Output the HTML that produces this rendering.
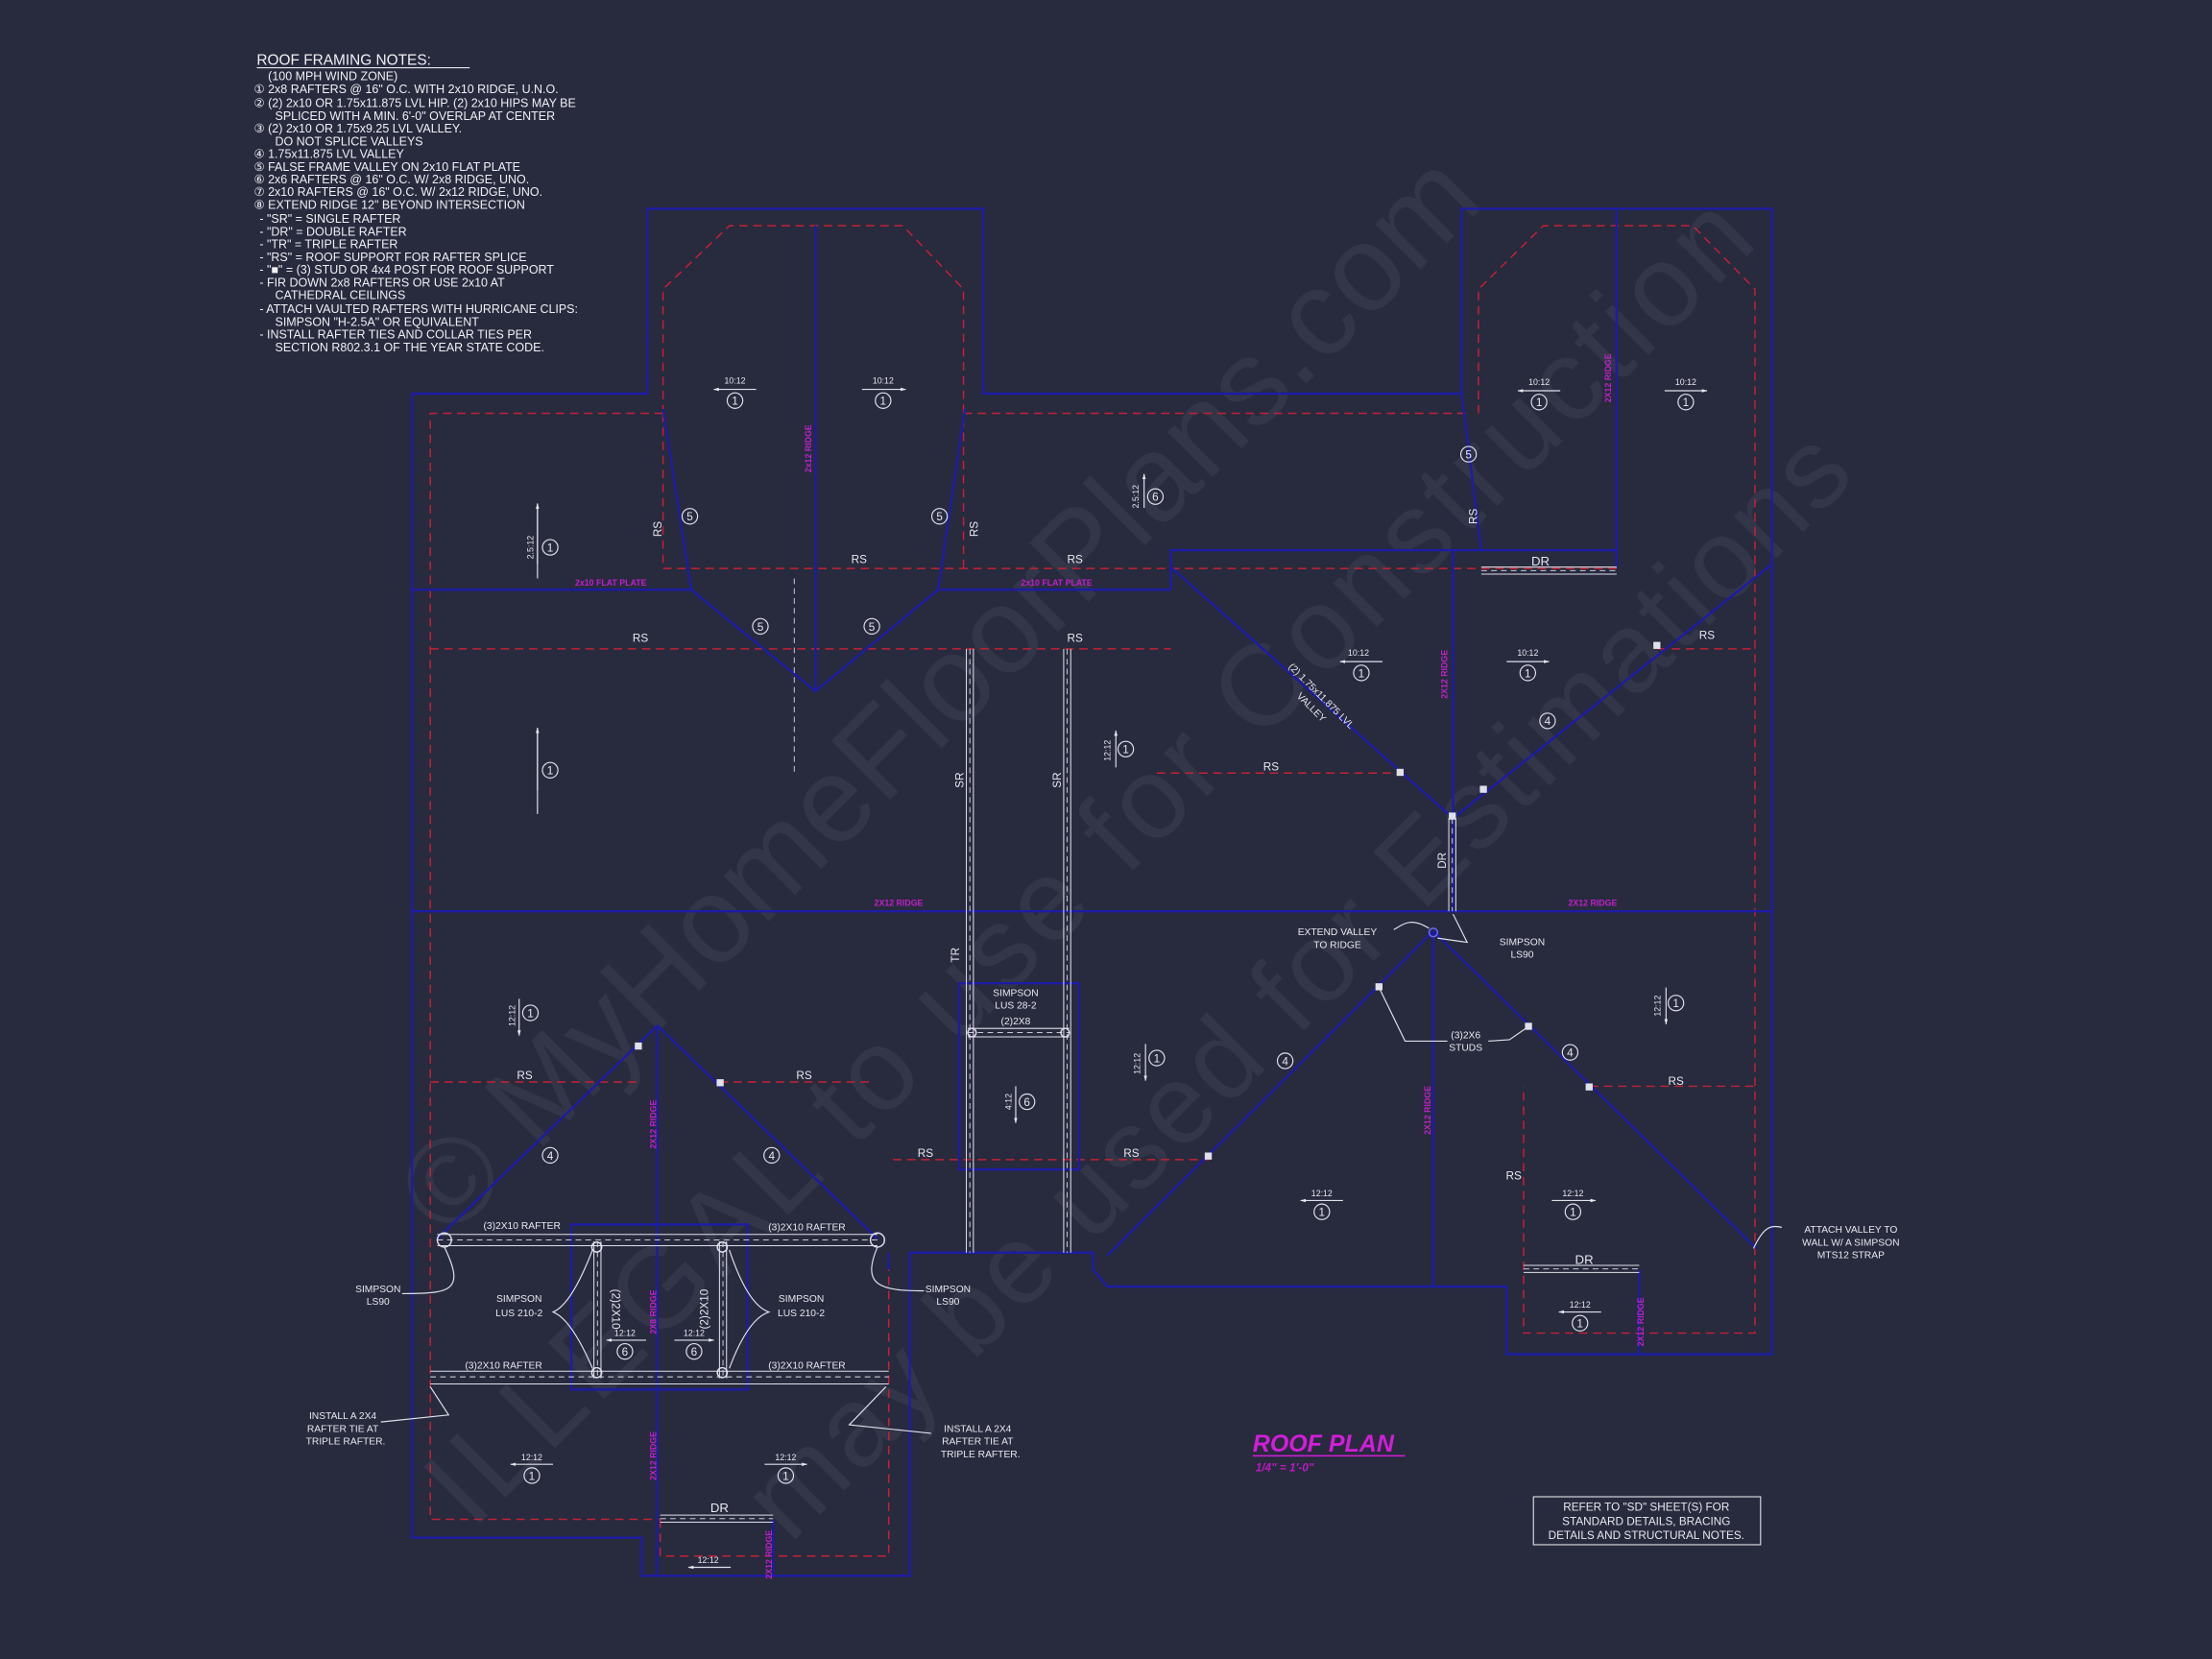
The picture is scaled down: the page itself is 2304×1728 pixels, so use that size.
<!DOCTYPE html>
<html><head><meta charset="utf-8"><style>
html,body{margin:0;padding:0;background:#282a3e;}
svg{display:block;}
text{font-family:"Liberation Sans",sans-serif;}
.w{fill:#e8e8ee;font-size:8px;}
.s{fill:#e8e8ee;font-size:6px;}
.m{fill:#c020c8;font-size:6px;font-weight:bold;}
.n{fill:#f0f0f4;font-size:8.5px;}
</style></head><body>
<svg width="2304" height="1728" viewBox="0 0 1568 1176" xmlns="http://www.w3.org/2000/svg">
<defs>
<marker id="ah" viewBox="0 0 10 10" refX="9" refY="5" markerWidth="5" markerHeight="5" orient="auto"><path d="M0,2 L10,5 L0,8 z" fill="#e8e8ee"/></marker>
</defs>
<rect width="1568" height="1176" fill="#282a3e"/>

<g fill="#9a9cb0" fill-opacity="0.1" font-family="Liberation Serif,serif">
<text x="318" y="880" font-size="86" transform="rotate(-45 318 880)" textLength="1040">© MyHomeFloorPlans.com</text>
<text x="335" y="1085" font-size="82" transform="rotate(-45 335 1085)" textLength="1290">ILLEGAL to use for Construction</text>
<text x="560" y="1095" font-size="80" transform="rotate(-45 560 1095)" textLength="1070">may be used for Estimations</text>
</g>

<g class="n">
<text x="182" y="46" font-size="10.5">ROOF FRAMING NOTES:</text>
<line x1="182" y1="48" x2="333" y2="48" stroke="#e8e8ee" stroke-width="0.8"/>
<text x="190" y="57">(100 MPH WIND ZONE)</text>
<text x="180" y="66">①  2x8 RAFTERS @ 16" O.C. WITH 2x10 RIDGE, U.N.O.</text>
<text x="180" y="76">②  (2) 2x10 OR 1.75x11.875 LVL HIP. (2) 2x10 HIPS MAY BE</text>
<text x="195" y="85">SPLICED WITH A MIN. 6'-0" OVERLAP AT CENTER</text>
<text x="180" y="94">③  (2) 2x10 OR 1.75x9.25 LVL VALLEY.</text>
<text x="195" y="103">DO NOT SPLICE VALLEYS</text>
<text x="180" y="112">④  1.75x11.875 LVL VALLEY</text>
<text x="180" y="121">⑤  FALSE FRAME VALLEY ON 2x10 FLAT PLATE</text>
<text x="180" y="130">⑥  2x6 RAFTERS @ 16" O.C. W/ 2x8 RIDGE, UNO.</text>
<text x="180" y="139">⑦  2x10 RAFTERS @ 16" O.C. W/ 2x12 RIDGE, UNO.</text>
<text x="180" y="148">⑧  EXTEND RIDGE 12" BEYOND INTERSECTION</text>
<text x="184" y="158">-   "SR" = SINGLE RAFTER</text>
<text x="184" y="167">-   "DR" = DOUBLE RAFTER</text>
<text x="184" y="176">-   "TR" = TRIPLE RAFTER</text>
<text x="184" y="185">-   "RS" = ROOF SUPPORT FOR RAFTER SPLICE</text>
<text x="184" y="194">-   "■"  = (3) STUD OR 4x4 POST FOR ROOF SUPPORT</text>
<text x="184" y="203">-  FIR DOWN 2x8 RAFTERS OR USE 2x10 AT</text>
<text x="195" y="212">CATHEDRAL CEILINGS</text>
<text x="184" y="222">-  ATTACH VAULTED RAFTERS WITH HURRICANE CLIPS:</text>
<text x="195" y="231">SIMPSON "H-2.5A" OR EQUIVALENT</text>
<text x="184" y="240">-  INSTALL RAFTER TIES AND COLLAR TIES PER</text>
<text x="195" y="249">SECTION R802.3.1 OF THE YEAR STATE CODE.</text>
</g>

<g stroke="#c42234" stroke-width="1" fill="none" stroke-dasharray="6,4">
<polyline points="470,293 305,293 305,1077 468,1077"/>
<polyline points="683,293 1040,293"/>
<polyline points="470,293 470,205 517,160 640,160 683,205 683,403"/>
<polyline points="470,293 470,403 1146,403"/>
<polyline points="1048,293 1048,205 1094,160 1200,160 1244,205 1244,945 1080,945 1080,770"/>
<line x1="305" y1="460" x2="830" y2="460"/>
<line x1="1175" y1="460" x2="1244" y2="460"/>
<line x1="820" y1="548" x2="992" y2="548"/>
<line x1="305" y1="767" x2="453" y2="767"/>
<line x1="510" y1="767" x2="620" y2="767"/>
<line x1="633" y1="822" x2="857" y2="822"/>
<line x1="1127" y1="770" x2="1244" y2="770"/>
<polyline points="468,1077 468,1103 630,1103 630,888"/>
</g>

<g stroke="#1c1ca6" stroke-width="1.6" fill="none">
<polyline points="292,279 459,279 459,148 697,148 697,279 1036,279 1036,148 1256,148 1256,960 1068,960 1068,912 785,912 775,900 775,888 645,888 645,1117 455,1117 455,1090 292,1090 292,279"/>
<line x1="292" y1="646" x2="1256" y2="646"/>
<polyline points="292,418 490,418 578,490 665,418 830,418"/>
<line x1="470" y1="290" x2="490" y2="418"/>
<line x1="684" y1="290" x2="665" y2="418"/>
<line x1="578" y1="160" x2="578" y2="490"/>
<polyline points="830,418 830,390 1146,390"/>
<line x1="830" y1="402" x2="1030" y2="580"/>
<line x1="1030" y1="390" x2="1030" y2="646"/>
<line x1="1036" y1="279" x2="1050" y2="390"/>
<line x1="1146" y1="148" x2="1146" y2="402"/>
<line x1="1256" y1="400" x2="1030" y2="580"/>
<line x1="1016" y1="660" x2="1016" y2="912"/>
<line x1="1016" y1="660" x2="785" y2="890"/>
<line x1="1016" y1="660" x2="1245" y2="885"/>
<line x1="466" y1="727" x2="310" y2="878"/>
<line x1="466" y1="727" x2="622" y2="878"/>
<line x1="466" y1="727" x2="466" y2="1117"/>
<rect x="680" y="697" width="85" height="132"/>
<rect x="405" y="868" width="125" height="117"/>
<line x1="630" y1="888" x2="630" y2="900"/>
<line x1="1162" y1="900" x2="1162" y2="960"/>
<line x1="548" y1="1077" x2="548" y2="1117"/>
</g>

<g stroke="#e0e0ea" fill="none">
<g stroke-width="0.7">
<line x1="685" y1="460" x2="685" y2="888"/><line x1="690" y1="460" x2="690" y2="888"/>
<line x1="754" y1="460" x2="754" y2="888"/><line x1="759" y1="460" x2="759" y2="888"/>
<line x1="310" y1="875" x2="622" y2="875"/><line x1="310" y1="883" x2="622" y2="883"/>
<line x1="305" y1="972" x2="630" y2="972"/><line x1="305" y1="981" x2="630" y2="981"/>
<line x1="421" y1="880" x2="421" y2="977"/><line x1="426" y1="880" x2="426" y2="977"/>
<line x1="510" y1="880" x2="510" y2="977"/><line x1="515" y1="880" x2="515" y2="977"/>
<line x1="686" y1="729" x2="758" y2="729"/><line x1="686" y1="735" x2="758" y2="735"/>
<line x1="1050" y1="402" x2="1146" y2="402"/><line x1="1050" y1="407" x2="1146" y2="407"/>
<line x1="1080" y1="897" x2="1162" y2="897"/><line x1="1080" y1="902" x2="1162" y2="902"/>
<line x1="468" y1="1074" x2="548" y2="1074"/><line x1="468" y1="1079" x2="548" y2="1079"/>
<line x1="1027" y1="580" x2="1027" y2="646"/><line x1="1032" y1="580" x2="1032" y2="646"/>
</g>
<g stroke-width="0.6" stroke-dasharray="4,3">
<line x1="687.5" y1="460" x2="687.5" y2="888"/><line x1="756.5" y1="460" x2="756.5" y2="888"/>
<line x1="310" y1="879" x2="622" y2="879"/><line x1="305" y1="976" x2="630" y2="976"/>
<line x1="423.5" y1="880" x2="423.5" y2="977"/><line x1="512.5" y1="880" x2="512.5" y2="977"/>
<line x1="686" y1="732" x2="758" y2="732"/><line x1="1050" y1="404.5" x2="1146" y2="404.5"/>
<line x1="1080" y1="899.5" x2="1162" y2="899.5"/><line x1="468" y1="1076.5" x2="548" y2="1076.5"/>
<line x1="1029.5" y1="580" x2="1029.5" y2="646"/>
<line x1="563" y1="410" x2="563" y2="550"/>
</g>
<circle cx="315" cy="879" r="5"/><circle cx="622" cy="879" r="5"/>
<circle cx="423" cy="884" r="3.5"/><circle cx="512" cy="884" r="3.5"/>
<circle cx="423" cy="973" r="3.5"/><circle cx="512" cy="973" r="3.5"/>
<circle cx="689" cy="732" r="3"/><circle cx="755" cy="732" r="3"/>
<circle cx="1016" cy="661" r="3" stroke="#6a6aff"/>
<g stroke-width="0.8">
<path d="M315,884 C330,915 320,917 285,917"/>
<path d="M622,884 C610,912 625,915 655,915"/>
<path d="M420,886 Q405,925 392,930 Q405,935 420,970"/>
<path d="M517,886 Q530,925 545,930 Q530,935 517,970"/>
<path d="M305,983 L318,1003 L270,1008"/>
<path d="M628,983 L602,1010 L660,1016"/>
<path d="M1013,658 C1000,650 995,655 988,659"/>
<path d="M1019,665 L1040,668 L1030,648"/>
<path d="M978,701 L996,738 L1026,738"/>
<path d="M1083,728 L1070,737 L1055,738"/>
<path d="M1243,885 C1250,870 1255,868 1263,870"/>
<line x1="381" y1="357" x2="381" y2="410"/>
<line x1="381" y1="516" x2="381" y2="577"/>
</g>
</g>
<g fill="#e0e0ea">
<rect x="450" y="739" width="5" height="5"/><rect x="508" y="765" width="5" height="5"/>
<rect x="854" y="817" width="5" height="5"/><rect x="975" y="697" width="5" height="5"/>
<rect x="1081" y="725" width="5" height="5"/><rect x="1124" y="768" width="5" height="5"/>
<rect x="1172" y="455" width="5" height="5"/><rect x="1049" y="557" width="5" height="5"/>
<rect x="990" y="545" width="5" height="5"/><rect x="1027" y="576" width="5" height="5"/>
</g>
<g stroke="#e0e0ea" stroke-width="0.8" marker-end="url(#ah)">
<line x1="381" y1="400" x2="381" y2="357"/><line x1="381" y1="560" x2="381" y2="516"/>
</g>

<g stroke="#e0e0ea" stroke-width="0.8" fill="none">
<g marker-end="url(#ah)">
<line x1="536" y1="276" x2="506" y2="276"/><line x1="611" y1="276" x2="642" y2="276"/>
<line x1="1106" y1="277" x2="1076" y2="277"/><line x1="1180" y1="277" x2="1210" y2="277"/>
<line x1="980" y1="469" x2="950" y2="469"/><line x1="1068" y1="469" x2="1098" y2="469"/>
<line x1="952" y1="851" x2="922" y2="851"/><line x1="1100" y1="851" x2="1131" y2="851"/>
<line x1="458" y1="950" x2="430" y2="950"/><line x1="478" y1="950" x2="506" y2="950"/>
<line x1="392" y1="1038" x2="362" y2="1038"/><line x1="542" y1="1038" x2="572" y2="1038"/>
<line x1="1135" y1="930" x2="1105" y2="930"/><line x1="518" y1="1111" x2="488" y2="1111"/>
<line x1="811" y1="360" x2="811" y2="336"/><line x1="791" y1="544" x2="791" y2="518"/>
<line x1="368" y1="708" x2="368" y2="734"/><line x1="812" y1="740" x2="812" y2="766"/>
<line x1="1181" y1="700" x2="1181" y2="726"/><line x1="720" y1="770" x2="720" y2="796"/>
</g>
<circle cx="521" cy="284" r="5.5"/><circle cx="626" cy="284" r="5.5"/>
<circle cx="1091" cy="285" r="5.5"/><circle cx="1195" cy="285" r="5.5"/>
<circle cx="965" cy="477" r="5.5"/><circle cx="1083" cy="477" r="5.5"/>
<circle cx="937" cy="859" r="5.5"/><circle cx="1115" cy="859" r="5.5"/>
<circle cx="443" cy="958" r="5.5"/><circle cx="492" cy="958" r="5.5"/>
<circle cx="377" cy="1046" r="5.5"/><circle cx="557" cy="1046" r="5.5"/>
<circle cx="1120" cy="938" r="5.5"/>
<circle cx="390" cy="388" r="5.5"/><circle cx="390" cy="546" r="5.5"/>
<circle cx="819" cy="352" r="5.5"/><circle cx="798" cy="531" r="5.5"/>
<circle cx="376" cy="718" r="5.5"/><circle cx="820" cy="750" r="5.5"/>
<circle cx="1188" cy="711" r="5.5"/><circle cx="728" cy="781" r="5.5"/>
<circle cx="489" cy="366" r="5.5"/><circle cx="666" cy="366" r="5.5"/>
<circle cx="539" cy="444" r="5.5"/><circle cx="618" cy="444" r="5.5"/>
<circle cx="1041" cy="322" r="5.5"/><circle cx="1097" cy="511" r="5.5"/>
<circle cx="390" cy="819" r="5.5"/><circle cx="547" cy="819" r="5.5"/>
<circle cx="911" cy="752" r="5.5"/><circle cx="1113" cy="746" r="5.5"/>
</g>
<g class="w" text-anchor="middle" font-size="7.5">
<text x="521" y="287">1</text><text x="626" y="287">1</text><text x="1091" y="288">1</text><text x="1195" y="288">1</text>
<text x="965" y="480">1</text><text x="1083" y="480">1</text><text x="937" y="862">1</text><text x="1115" y="862">1</text>
<text x="443" y="961">6</text><text x="492" y="961">6</text><text x="377" y="1049">1</text><text x="557" y="1049">1</text>
<text x="1120" y="941">1</text><text x="390" y="391">1</text><text x="390" y="549">1</text><text x="819" y="355">6</text>
<text x="798" y="534">1</text><text x="376" y="721">1</text><text x="820" y="753">1</text><text x="1188" y="714">1</text>
<text x="728" y="784">6</text>
<text x="489" y="369">5</text><text x="666" y="369">5</text><text x="539" y="447">5</text><text x="618" y="447">5</text>
<text x="1041" y="325">5</text><text x="1097" y="514">4</text><text x="390" y="822">4</text><text x="547" y="822">4</text>
<text x="911" y="755">4</text><text x="1113" y="749">4</text>
</g>
<g class="s" text-anchor="middle">
<text x="521" y="272">10:12</text><text x="626" y="272">10:12</text><text x="1091" y="273">10:12</text><text x="1195" y="273">10:12</text>
<text x="963" y="465">10:12</text><text x="1083" y="465">10:12</text><text x="937" y="848">12:12</text><text x="1115" y="848">12:12</text>
<text x="443" y="947">12:12</text><text x="492" y="947">12:12</text><text x="377" y="1035">12:12</text><text x="557" y="1035">12:12</text>
<text x="1120" y="927">12:12</text><text x="502" y="1108">12:12</text>
<text transform="translate(378,388) rotate(-90)">2.5:12</text>
<text transform="translate(807,352) rotate(-90)">2.5:12</text>
<text transform="translate(787,532) rotate(-90)">12:12</text>
<text transform="translate(365,720) rotate(-90)">12:12</text>
<text transform="translate(808,754) rotate(-90)">12:12</text>
<text transform="translate(1177,713) rotate(-90)">12:12</text>
<text transform="translate(717,781) rotate(-90)">4:12</text>
</g>

<g class="w" text-anchor="middle">
<text x="609" y="399">RS</text><text x="762" y="399">RS</text><text x="454" y="455">RS</text><text x="762" y="455">RS</text>
<text x="1210" y="453">RS</text><text x="901" y="546">RS</text><text x="372" y="765">RS</text><text x="570" y="765">RS</text>
<text x="656" y="820">RS</text><text x="802" y="820">RS</text><text x="1188" y="769">RS</text><text x="1073" y="836">RS</text>
<text transform="translate(469,375) rotate(-90)">RS</text>
<text transform="translate(693,375) rotate(-90)">RS</text>
<text transform="translate(1047,366) rotate(-90)">RS</text>
<text transform="translate(683,553) rotate(-90)">SR</text>
<text transform="translate(752,553) rotate(-90)">SR</text>
<text transform="translate(680,677) rotate(-90)">TR</text>
<text transform="translate(1025,610) rotate(-90)">DR</text>
<text x="1092" y="401" font-size="9">DR</text><text x="1123" y="896" font-size="9">DR</text><text x="510" y="1072" font-size="9">DR</text>
<text x="370" y="871" font-size="7">(3)2X10 RAFTER</text><text x="572" y="872" font-size="7">(3)2X10 RAFTER</text>
<text x="357" y="970" font-size="7">(3)2X10 RAFTER</text><text x="572" y="970" font-size="7">(3)2X10 RAFTER</text>
<text x="268" y="916" font-size="7">SIMPSON</text><text x="268" y="925" font-size="7">LS90</text>
<text x="672" y="916" font-size="7">SIMPSON</text><text x="672" y="925" font-size="7">LS90</text>
<text x="368" y="923" font-size="7">SIMPSON</text><text x="368" y="933" font-size="7">LUS 210-2</text>
<text x="568" y="923" font-size="7">SIMPSON</text><text x="568" y="933" font-size="7">LUS 210-2</text>
<text x="720" y="706" font-size="7">SIMPSON</text><text x="720" y="715" font-size="7">LUS 28-2</text>
<text x="720" y="726" font-size="7">(2)2X8</text>
<text transform="translate(434,928) rotate(90)" font-size="8">(2)2X10</text>
<text transform="translate(502,928) rotate(-90)" font-size="8">(2)2X10</text>
<text x="948" y="663" font-size="7">EXTEND VALLEY</text><text x="948" y="672" font-size="7">TO RIDGE</text>
<text x="1079" y="670" font-size="7">SIMPSON</text><text x="1079" y="679" font-size="7">LS90</text>
<text x="1039" y="736" font-size="7">(3)2X6</text><text x="1039" y="745" font-size="7">STUDS</text>
<text x="1312" y="874" font-size="7">ATTACH VALLEY TO</text><text x="1312" y="883" font-size="7">WALL W/ A SIMPSON</text><text x="1312" y="892" font-size="7">MTS12 STRAP</text>
<text x="243" y="1006" font-size="7">INSTALL A 2X4</text><text x="243" y="1015" font-size="7">RAFTER TIE AT</text><text x="245" y="1024" font-size="7">TRIPLE RAFTER.</text>
<text x="693" y="1015" font-size="7">INSTALL A 2X4</text><text x="693" y="1024" font-size="7">RAFTER TIE AT</text><text x="695" y="1033" font-size="7">TRIPLE RAFTER.</text>
<text transform="translate(935,495) rotate(45)" font-size="7">(2) 1.75x11.875 LVL</text>
<text transform="translate(928,503) rotate(45)" font-size="7">VALLEY</text>
</g>

<g class="m" text-anchor="middle">
<text x="433" y="415">2x10 FLAT PLATE</text><text x="749" y="415">2x10 FLAT PLATE</text>
<text x="637" y="642">2X12 RIDGE</text><text x="1129" y="642">2X12 RIDGE</text>
<text transform="translate(575,318) rotate(-90)">2x12 RIDGE</text>
<text transform="translate(1142,268) rotate(-90)">2X12 RIDGE</text>
<text transform="translate(1026,478) rotate(-90)">2X12 RIDGE</text>
<text transform="translate(465,797) rotate(-90)">2X12 RIDGE</text>
<text transform="translate(1014,787) rotate(-90)">2X12 RIDGE</text>
<text transform="translate(465,930) rotate(-90)">2X8 RIDGE</text>
<text transform="translate(465,1032) rotate(-90)">2X12 RIDGE</text>
<text transform="translate(547,1102) rotate(-90)">2X12 RIDGE</text>
<text transform="translate(1165,937) rotate(-90)">2X12 RIDGE</text>
</g>

<text x="888" y="1029" fill="#d21ed8" font-size="17" font-weight="bold" font-style="italic">ROOF PLAN</text>
<line x1="888" y1="1032" x2="996" y2="1032" stroke="#d21ed8" stroke-width="1"/>
<text x="890" y="1043" fill="#b81cc0" font-size="8" font-weight="bold" font-style="italic">1/4" = 1'-0"</text>
<rect x="1087" y="1061" width="161" height="34" fill="none" stroke="#d8d8e0" stroke-width="0.8"/>
<g class="w" text-anchor="middle" font-size="7.5">
<text x="1167" y="1071">REFER TO "SD"  SHEET(S) FOR</text>
<text x="1167" y="1081">STANDARD DETAILS, BRACING</text>
<text x="1167" y="1091">DETAILS AND STRUCTURAL NOTES.</text>
</g>
</svg>
</body></html>
